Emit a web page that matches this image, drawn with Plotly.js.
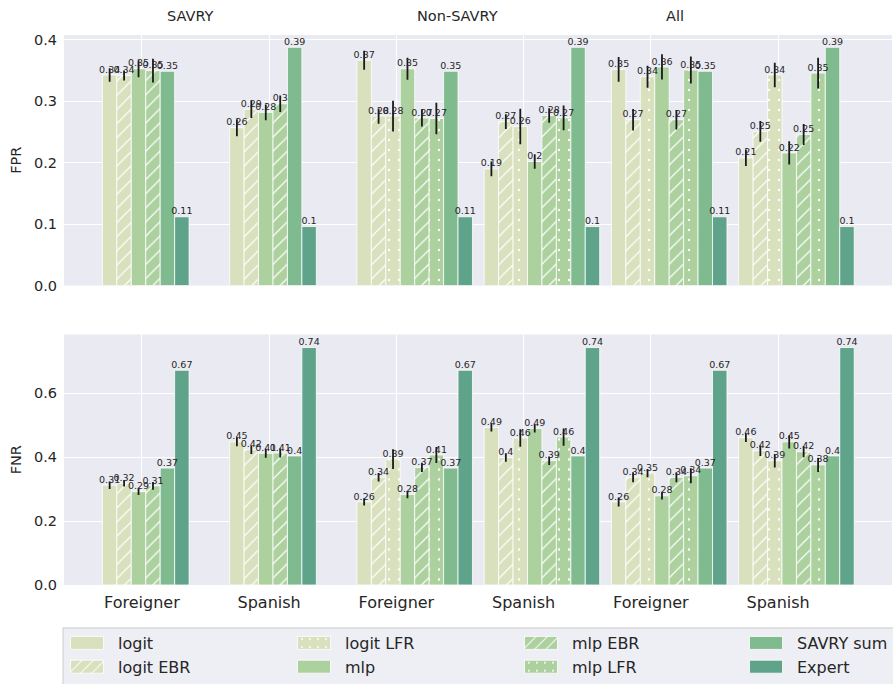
<!DOCTYPE html>
<html>
<head>
<meta charset="utf-8">
<script src="https://cdn.plot.ly/plotly-3.0.1.min.js"></script>
<style>
  html, body { margin: 0; padding: 0; background: #ffffff; }
  #chart { width: 893px; height: 684px; }
</style>
</head>
<body>
<div id="chart"></div>
<script>
// Panels (data subsets) and groups within each panel
const panels = ['SAVRY', 'Non-SAVRY', 'All'];
const groups = ['Foreigner', 'Spanish'];
const models = ['logit', 'logit EBR', 'logit LFR', 'mlp', 'mlp EBR', 'mlp LFR', 'SAVRY sum', 'Expert'];

// Cell order: SAVRY-Foreigner, SAVRY-Spanish, Non-SAVRY-Foreigner, Non-SAVRY-Spanish, All-Foreigner, All-Spanish
// False positive rate
const fprLogit    = [0.343, 0.257, 0.367, 0.190, 0.352, 0.208];
const fprLogitEBR = [0.342, 0.287, 0.276, 0.267, 0.270, 0.251];
const fprLogitLFR = [null,  null,  0.276, 0.259, 0.340, 0.343];
const fprMlp      = [0.353, 0.282, 0.353, 0.202, 0.356, 0.216];
const fprMlpEBR   = [0.350, 0.296, 0.273, 0.277, 0.270, 0.246];
const fprMlpLFR   = [null,  null,  0.272, 0.273, 0.351, 0.346];
const fprSavry    = [0.349, 0.388, 0.349, 0.388, 0.349, 0.388];
const fprExpert   = [0.112, 0.096, 0.112, 0.096, 0.112, 0.096];

const fprLogitErr    = [0.011, 0.014, 0.0155, 0.012, 0.020, 0.0135];
const fprLogitEBRErr = [0.008, 0.014, 0.0125, 0.012, 0.0175, 0.017];
const fprLogitLFRErr = [null,  null,  0.025, 0.029, 0.018, 0.020];
const fprMlpErr      = [0.014, 0.013, 0.018, 0.012, 0.0205, 0.019];
const fprMlpEBRErr   = [0.0195, 0.0135, 0.014, 0.0117, 0.016, 0.017];
const fprMlpLFRErr   = [null,  null,  0.0257, 0.020, 0.022, 0.025];

// False negative rate
const fnrLogit    = [0.312, 0.448, 0.260, 0.493, 0.260, 0.461];
const fnrLogitEBR = [0.318, 0.423, 0.337, 0.399, 0.337, 0.420];
const fnrLogitLFR = [null,  null,  0.394, 0.460, 0.350, 0.389];
const fnrMlp      = [0.292, 0.412, 0.283, 0.490, 0.279, 0.448];
const fnrMlpEBR   = [0.310, 0.413, 0.368, 0.389, 0.337, 0.417];
const fnrMlpLFR   = [null,  null,  0.407, 0.463, 0.342, 0.376];
const fnrSavry    = [0.366, 0.404, 0.366, 0.404, 0.366, 0.404];
const fnrExpert   = [0.672, 0.743, 0.672, 0.743, 0.672, 0.743];

const fnrLogitErr    = [0.0115, 0.014, 0.0115, 0.013, 0.014, 0.0135];
const fnrLogitEBRErr = [0.010, 0.013, 0.0135, 0.0135, 0.0156, 0.0167];
const fnrLogitLFRErr = [null,  null,  0.031, 0.027, 0.013, 0.021];
const fnrMlpErr      = [0.010, 0.014, 0.0115, 0.013, 0.0115, 0.021];
const fnrMlpEBRErr   = [0.012, 0.014, 0.0146, 0.0135, 0.0156, 0.017];
const fnrMlpLFRErr   = [null,  null,  0.025, 0.027, 0.0234, 0.0224];

const yTicksFPR = [0, 0.1, 0.2, 0.3, 0.4];
const yTicksFNR = [0, 0.2, 0.4, 0.6];

// ---- assembly ----
const rows = [
  {
    values: [fprLogit, fprLogitEBR, fprLogitLFR, fprMlp, fprMlpEBR, fprMlpLFR, fprSavry, fprExpert],
    errors: [fprLogitErr, fprLogitEBRErr, fprLogitLFRErr, fprMlpErr, fprMlpEBRErr, fprMlpLFRErr, null, null],
    xa: 'x', ya: 'y'
  },
  {
    values: [fnrLogit, fnrLogitEBR, fnrLogitLFR, fnrMlp, fnrMlpEBR, fnrMlpLFR, fnrSavry, fnrExpert],
    errors: [fnrLogitErr, fnrLogitEBRErr, fnrLogitLFRErr, fnrMlpErr, fnrMlpEBRErr, fnrMlpLFRErr, null, null],
    xa: 'x2', ya: 'y2'
  }
];

const LOGIT = '#d8e0bd', MLP = '#acd09e', SAVRY = '#80bb8f', EXPERT = '#5ea38a';
const styles = [
  { c: LOGIT,  p: '' },
  { c: LOGIT,  p: '/' },
  { c: LOGIT,  p: '.' },
  { c: MLP,    p: '' },
  { c: MLP,    p: '/' },
  { c: MLP,    p: '.' },
  { c: SAVRY,  p: '' },
  { c: EXPERT, p: '' }
];
const legendOf = ['legend', 'legend', 'legend2', 'legend2', 'legend3', 'legend3', 'legend4', 'legend4'];

const cells = [];
panels.forEach(() => groups.forEach(g => cells.push(g)));
const tickVals = cells.map((_, i) => i);

const slotW = 0.1135;     // width of one bar in category units
const firstEdge = -0.31;  // left edge of the first bar relative to its category tick

function marker(st) {
  const m = { color: st.c, line: { color: '#ffffff', width: 0.8 } };
  if (st.p === '/') {
    m.pattern = { shape: '/', fillmode: 'replace', bgcolor: st.c, fgcolor: '#ffffff', size: 10, solidity: 0.12 };
  } else if (st.p === '.') {
    m.pattern = { shape: '.', fillmode: 'replace', bgcolor: st.c, fgcolor: '#ffffff', size: 10, solidity: 0.045 };
  }
  return m;
}

const FONT = 'DejaVu Sans, sans-serif';
const INK = '#262626';
const barTraces = [];
const labelTraces = [];
rows.forEach((row, r) => {
  models.forEach((name, mi) => {
    const xs = [], ys = [], es = [];
    row.values[mi].forEach((v, cell) => {
      if (v === null) return;
      const present = models.filter((_, k) => row.values[k][cell] !== null);
      const slot = present.indexOf(name);
      xs.push(cell + firstEdge + slotW * (slot + 0.5));
      ys.push(v);
      if (row.errors[mi]) es.push(row.errors[mi][cell]);
    });
    const t = {
      type: 'bar', name: name, x: xs, y: ys, width: slotW,
      xaxis: row.xa, yaxis: row.ya,
      marker: marker(styles[mi]),
      legend: legendOf[mi], showlegend: r === 0, hoverinfo: 'skip'
    };
    if (row.errors[mi]) {
      t.error_y = { type: 'data', array: es, visible: true, color: '#1a1a1a', thickness: 1.8, width: 0 };
    }
    barTraces.push(t);
    // value labels sit on top of every bar of the subplot
    labelTraces.push({
      type: 'scatter', mode: 'text', x: xs, y: ys, xaxis: row.xa, yaxis: row.ya,
      texttemplate: '%{y:.2~f}', textposition: 'top center', cliponaxis: false,
      textfont: { family: FONT, size: 9.5, color: INK },
      showlegend: false, hoverinfo: 'skip'
    });
  });
});
const traces = barTraces.concat(labelTraces);

// pixel helpers for paper placement
const W = 893, H = 684, ML = 64, MR = 0, MT = 35, MB = 98;
const PW = W - ML - MR, PH = H - MT - MB;
const px = x => (x - ML) / PW;
const py = y => (H - MB - y) / PH;

const grid = '#ffffff';
const axisX = {
  range: [-0.612, 5.895], tickvals: tickVals, ticktext: cells,
  showgrid: true, gridcolor: grid, gridwidth: 1, zeroline: false, showline: false, ticks: '',
  tickfont: { family: FONT, size: 16, color: INK }
};

const legendBase = {
  orientation: 'v', xanchor: 'left', yanchor: 'top', y: py(627),
  bgcolor: 'rgba(0,0,0,0)', borderwidth: 0, itemwidth: 52, tracegroupgap: 0,
  font: { family: FONT, size: 16, color: INK }, itemclick: false, itemdoubleclick: false
};
const legendTextX = [118, 345, 572, 798];

const layout = {
  width: W, height: H,
  margin: { l: ML, r: MR, t: MT, b: MB },
  paper_bgcolor: '#ffffff', plot_bgcolor: '#eaeaf2',
  barmode: 'overlay', bargap: 0,
  font: { family: FONT, color: INK },
  xaxis: Object.assign({}, axisX, { anchor: 'y', showticklabels: false }),
  xaxis2: Object.assign({}, axisX, { anchor: 'y2', matches: 'x', ticklabelstandoff: 6 }),
  yaxis: {
    domain: [py(286), 1], range: [0, 0.408], tickvals: yTicksFPR, tickformat: '.1f',
    showgrid: true, gridcolor: grid, gridwidth: 1, zeroline: false, showline: false, ticks: '',
    ticklabelstandoff: 6,
    tickfont: { family: FONT, size: 14.5, color: INK },
    title: { text: 'FPR', font: { family: FONT, size: 14.5, color: INK }, standoff: 8 }
  },
  yaxis2: {
    domain: [0, py(335)], range: [0, 0.784], tickvals: yTicksFNR, tickformat: '.1f',
    showgrid: true, gridcolor: grid, gridwidth: 1, zeroline: false, showline: false, ticks: '',
    ticklabelstandoff: 6,
    tickfont: { family: FONT, size: 14.5, color: INK },
    title: { text: 'FNR', font: { family: FONT, size: 14.5, color: INK }, standoff: 8 }
  },
  legend:  Object.assign({}, legendBase, { x: px(legendTextX[0] - 62) }),
  legend2: Object.assign({}, legendBase, { x: px(legendTextX[1] - 62) }),
  legend3: Object.assign({}, legendBase, { x: px(legendTextX[2] - 62) }),
  legend4: Object.assign({}, legendBase, { x: px(legendTextX[3] - 62) }),
  annotations: panels.map((p, i) => ({
    text: p, xref: 'paper', yref: 'paper', x: px([191, 458, 676][i]), y: py(16),
    xanchor: 'center', yanchor: 'middle', showarrow: false,
    font: { family: FONT, size: 14.5, color: INK }
  })),
  shapes: [{
    type: 'rect', xref: 'paper', yref: 'paper', layer: 'above',
    x0: px(63), x1: px(905), y0: py(629), y1: py(700),
    fillcolor: 'rgba(238,238,245,1)', line: { color: '#cccccc', width: 1 }
  }]
};

Plotly.newPlot('chart', traces, layout, { displayModeBar: false, staticPlot: true }).then(() => {
  // widen the legend swatches into flat rectangles
  document.querySelectorAll('.legendpoints path').forEach(p => {
    p.setAttribute('d', 'M16.5,6.5H-16.5V-6.5H16.5Z');
  });
});
</script>
</body>
</html>
